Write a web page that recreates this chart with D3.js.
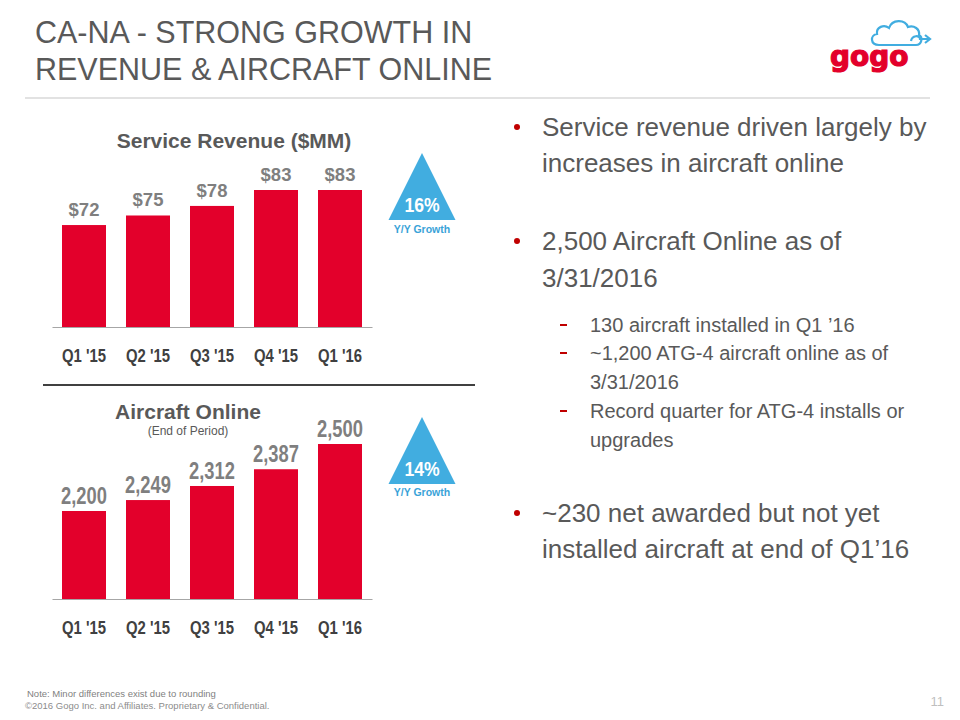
<!DOCTYPE html>
<html>
<head>
<meta charset="utf-8">
<script src="https://cdn.jsdelivr.net/npm/d3@7"></script>
<style>
  html, body { margin: 0; padding: 0; background: #fff; }
  svg { display: block; font-family: "Liberation Sans", Arial, sans-serif; }
</style>
</head>
<body>
<svg id="chart" width="960" height="720"></svg>
<script>
// ---- data ----
const categories = ["Q1 '15", "Q2 '15", "Q3 '15", "Q4 '15", "Q1 '16"];
const revenue = [72, 75, 78, 83, 83];
const aircraftOnline = [2200, 2249, 2312, 2387, 2500];
const revenueGrowth = "16%";
const aircraftGrowth = "14%";
const growthLabel = "Y/Y Growth";
const titleLines = ["CA-NA - STRONG GROWTH IN", "REVENUE & AIRCRAFT ONLINE"];
const bullets = [
  { level: 1, lines: ["Service revenue driven largely by", "increases in aircraft online"] },
  { level: 1, lines: ["2,500 Aircraft Online as of", "3/31/2016"] },
  { level: 2, lines: ["130 aircraft installed in Q1 \u201916"] },
  { level: 2, lines: ["~1,200 ATG-4 aircraft online as of", "3/31/2016"] },
  { level: 2, lines: ["Record quarter for ATG-4 installs or", "upgrades"] },
  { level: 1, lines: ["~230 net awarded but not yet", "installed aircraft at end of Q1\u201916"] }
];
const bulletBaselines = [[136, 172], [250, 287], [332], [360, 389], [418, 447], [522, 558]];

const RED = "#e3002b";
const BLUE = "#41ade0";
const svg = d3.select("#chart");

// narrow-font look: squeeze rendered text horizontally
function condense(sel, f) {
  sel.each(function () {
    const w = this.getComputedTextLength();
    d3.select(this).attr("textLength", w * f).attr("lengthAdjust", "spacingAndGlyphs");
  });
}

// ---- slide title ----
svg.append("g").selectAll("text").data(titleLines).join("text")
  .attr("x", 35).attr("y", (d, i) => 43 + i * 37)
  .attr("font-size", 30.5).attr("fill", "#595959")
  .text(d => d);
svg.append("line").attr("x1", 25).attr("x2", 930).attr("y1", 98).attr("y2", 98)
  .attr("stroke", "#d9d9d9").attr("stroke-width", 1.5);

// ---- logo ----
const logo = svg.append("g");
logo.append("path")
  .attr("d", "M879,45 C870,45 870,35 877,34 C876,27 884,24 889,28 C892,19 905,19 908,27 C914,25 920,29 919,35 C923,37 922,45 916,45 Z")
  .attr("fill", "none").attr("stroke", BLUE).attr("stroke-width", 2.2);
logo.append("path")
  .attr("d", "M911,41 C912,35 920,35 920,39 L930,39 M925,35 L930,39 L925,43")
  .attr("fill", "none").attr("stroke", BLUE).attr("stroke-width", 2.2);
logo.append("text").attr("x", 830).attr("y", 66)
  .attr("font-family", "DejaVu Sans").attr("font-weight", "bold")
  .attr("font-size", 28).attr("fill", RED)
  .attr("stroke", RED).attr("stroke-width", 1.2).text("gogo");

// ---- bar chart helper ----
const x = d3.scaleBand().domain(categories).range([52, 372])
  .paddingInner(0.3125).paddingOuter(0.15625);

function barChart(values, yScale, baseY, fmt, labelSize, labelGap, squeeze) {
  const g = svg.append("g");
  g.selectAll("rect").data(values).join("rect")
    .attr("x", (d, i) => x(categories[i]))
    .attr("width", x.bandwidth())
    .attr("y", d => yScale(d))
    .attr("height", d => baseY - yScale(d))
    .attr("fill", RED);
  const labels = g.selectAll("text.val").data(values).join("text").attr("class", "val")
    .attr("x", (d, i) => x(categories[i]) + x.bandwidth() / 2)
    .attr("y", d => yScale(d) - labelGap)
    .attr("text-anchor", "middle").attr("font-weight", "bold")
    .attr("font-size", labelSize).attr("fill", "#7f7f7f")
    .text(fmt);
  if (squeeze < 1) condense(labels, squeeze);
  const axis = g.append("g").attr("transform", `translate(0,${baseY})`)
    .call(d3.axisBottom(x).tickSize(0).tickPadding(25));
  axis.select(".domain").attr("stroke", "#a6a6a6").attr("stroke-width", 1.2);
  const ticks = axis.selectAll("text").attr("font-family", "Liberation Sans, Arial, sans-serif")
    .attr("font-size", 17.5).attr("font-weight", "bold").attr("fill", "#404040")
    .attr("dy", 0).attr("y", 35);
  condense(ticks, 0.85);
  return g;
}

function triangle(apexY, pct, pctY, lblY) {
  const g = svg.append("g");
  g.append("path")
    .attr("d", `M422,${apexY} L455.5,${apexY + 67} L388.5,${apexY + 67} Z`)
    .attr("fill", BLUE);
  const p = g.append("text").attr("x", 422).attr("y", pctY).attr("text-anchor", "middle")
    .attr("font-weight", "bold").attr("font-size", 20).attr("fill", "#fff").text(pct);
  condense(p, 0.88);
  g.append("text").attr("x", 422).attr("y", lblY).attr("text-anchor", "middle")
    .attr("font-weight", "bold").attr("font-size", 10.5).attr("fill", "#3aa3d8").text(growthLabel);
}

// ---- top chart: Service Revenue ----
const yRev = d3.scaleLinear().domain([40, d3.max(revenue)]).range([327, 190]);
svg.append("text").attr("x", 234).attr("y", 148).attr("text-anchor", "middle")
  .attr("font-weight", "bold").attr("font-size", 21).attr("fill", "#595959")
  .text("Service Revenue ($MM)");
barChart(revenue, yRev, 327, d => "$" + d, 18.5, 9, 1);
triangle(153, revenueGrowth, 212, 233);

// separator
svg.append("line").attr("x1", 43).attr("x2", 475).attr("y1", 385).attr("y2", 385)
  .attr("stroke", "#404040").attr("stroke-width", 2);

// ---- bottom chart: Aircraft Online ----
const yAc = d3.scaleLinear().domain([1806, d3.max(aircraftOnline)]).range([599, 444]);
svg.append("text").attr("x", 188).attr("y", 419).attr("text-anchor", "middle")
  .attr("font-weight", "bold").attr("font-size", 21).attr("fill", "#595959")
  .text("Aircraft Online");
svg.append("text").attr("x", 188).attr("y", 435).attr("text-anchor", "middle")
  .attr("font-size", 12).attr("fill", "#595959").text("(End of Period)");
barChart(aircraftOnline, yAc, 599, d3.format(","), 23.5, 7, 0.78);
triangle(417, aircraftGrowth, 476, 496);

// ---- bullets ----
const bg = svg.append("g");
bullets.forEach((b, i) => {
  const ys = bulletBaselines[i];
  if (b.level === 1) {
    bg.append("circle").attr("cx", 517).attr("cy", ys[0] - 9).attr("r", 3).attr("fill", "#c00000");
    b.lines.forEach((t, j) => bg.append("text").attr("x", 542).attr("y", ys[j])
      .attr("font-size", 26).attr("fill", "#595959").text(t));
  } else {
    bg.append("line").attr("x1", 560).attr("x2", 567).attr("y1", ys[0] - 7).attr("y2", ys[0] - 7)
      .attr("stroke", "#c00000").attr("stroke-width", 2);
    b.lines.forEach((t, j) => bg.append("text").attr("x", 590).attr("y", ys[j])
      .attr("font-size", 20).attr("fill", "#595959").text(t));
  }
});

// ---- footer ----
svg.append("text").attr("x", 27).attr("y", 697).attr("font-size", 9.5).attr("fill", "#7f7f7f")
  .text("Note: Minor differences exist due to rounding");
svg.append("text").attr("x", 25).attr("y", 709).attr("font-size", 9.5).attr("fill", "#8c8c8c")
  .text("\u00a92016 Gogo Inc. and Affiliates. Proprietary & Confidential.");
svg.append("text").attr("x", 944).attr("y", 706).attr("text-anchor", "end")
  .attr("font-size", 13).attr("fill", "#bfbfbf").text("11");
</script>
</body>
</html>
